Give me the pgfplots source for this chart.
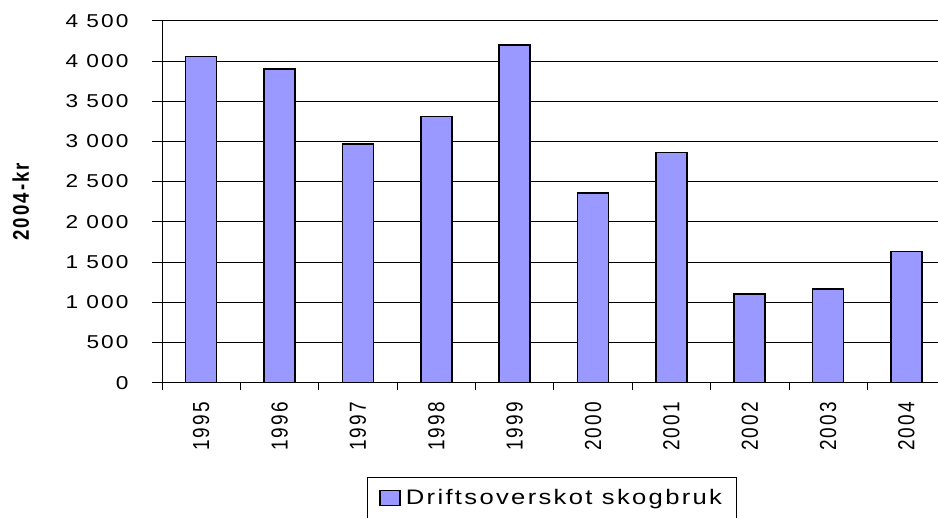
\documentclass[border=0pt]{standalone}
\usepackage{fontspec}
\setmainfont{Liberation Sans}[FakeStretch=1.22, LetterSpace=11]
\newfontfamily\rotfont{Liberation Sans}[LetterSpace=11]
\usepackage{graphicx}
\usepackage{pgfplots}
\pgfplotsset{compat=1.18}
\definecolor{barfill}{HTML}{9999FF}
\newcommand{\yr}[1]{\scalebox{1}[1.22]{\rotfont #1}}
\begin{document}
\begin{tikzpicture}
\begin{axis}[
  at={(162pt,-382.7pt)}, anchor=south west,
  scale only axis, width=783.7pt, height=362pt,
  xmin=-0.5, xmax=9.5, ymin=0, ymax=4500,
  axis x line*=bottom, axis y line*=left,
  axis line style={black, line width=0.8pt, -},
  ytick={0,500,...,4500},
  ymajorgrids, grid style={black, line width=0.8pt},
  xtick={0,...,9},
  xticklabels={\yr{1995},\yr{1996},\yr{1997},\yr{1998},\yr{1999},\yr{2000},\yr{2001},\yr{2002},\yr{2003},\yr{2004}},
  minor xtick={-0.5,0.5,...,8.5},
  tick align=outside,
  major tick length=10pt, minor tick length=7pt,
  major x tick style={draw=none},
  tick style={black, line width=0.8pt},
  xticklabel shift=6pt,
  xticklabel style={rotate=90, anchor=east, font=\fontsize{19}{20}\selectfont},
  yticklabel style={anchor=east, xshift=-20pt, font=\fontsize{18.6}{20}\selectfont},
  /pgf/number format/.cd, 1000 sep={\ }, assume math mode=true, /pgfplots/.cd,
  ylabel={\scalebox{1}[1.22]{\rotfont\bfseries 2004-kr}},
  ylabel style={at={(axis description cs:-0.1803,0.5)}, anchor=center, font=\fontsize{18.6}{20}\selectfont},
  legend style={at={(axis description cs:0.2616,-0.2605)}, anchor=north west, draw=black, line width=0.8pt,
    inner xsep=12pt, inner ysep=10pt, font=\fontsize{21}{24}\selectfont},
  legend image code/.code={\draw[fill=barfill, draw=black, line width=1.5pt] (0pt,-7.5pt) rectangle (20pt,7.5pt);},
]
\addplot[ybar, bar width=31pt, fill=barfill, draw=black, line width=1.6pt] coordinates {
(0,4053) (1,3896) (2,2964) (3,3307) (4,4198) (5,2355) (6,2864) (7,1099) (8,1165) (9,1629)};
\addlegendentry{\hspace{3pt}Driftsoverskot skogbruk\hspace{4pt}}
\end{axis}
\pgfresetboundingbox
\useasboundingbox (0pt,0pt) rectangle (938pt,-518pt);
\end{tikzpicture}
\end{document}
